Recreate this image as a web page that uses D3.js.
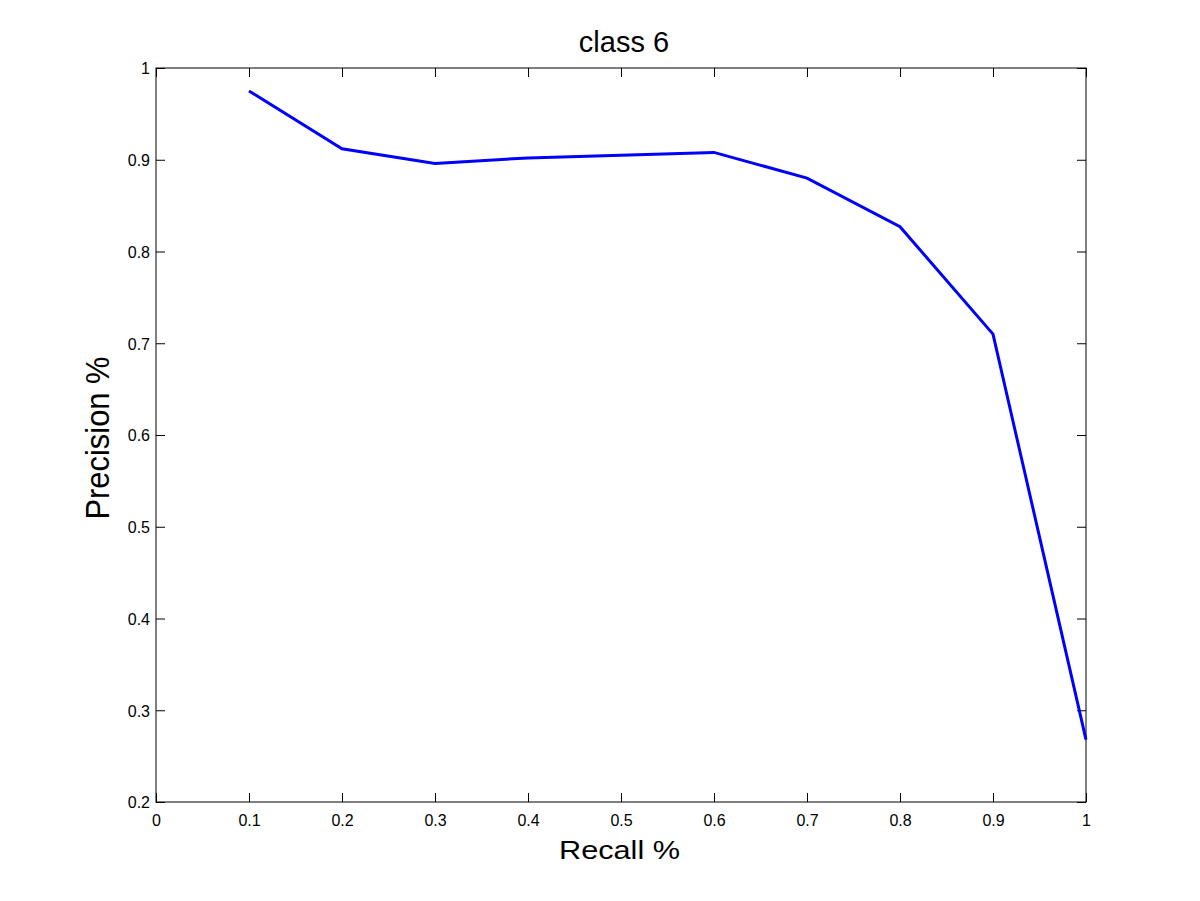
<!DOCTYPE html>
<html><head><meta charset="utf-8">
<script src="https://cdn.jsdelivr.net/npm/d3@7"></script>
<style>body{margin:0;background:#fff}svg{display:block}text{font-family:"Liberation Sans",Arial,sans-serif}</style>
</head><body>
<script>
const recall = [0.1, 0.2, 0.3, 0.4, 0.5, 0.6, 0.7, 0.8, 0.9, 1.0];
const precision = [0.975, 0.912, 0.896, 0.902, 0.905, 0.908, 0.880, 0.827, 0.710, 0.268];
const xTicks = [0, 0.1, 0.2, 0.3, 0.4, 0.5, 0.6, 0.7, 0.8, 0.9, 1];
const yTicks = [0.2, 0.3, 0.4, 0.5, 0.6, 0.7, 0.8, 0.9, 1];
const title = "class 6", xLabel = "Recall %", yLabel = "Precision %";

const W = 1200, H = 901;
const L = 156, R = 1086, T = 68, B = 802;
const svg = d3.select("body").append("svg").attr("width", W).attr("height", H);
const x = d3.scaleLinear().domain([0, 1]).range([L, R]);
const y = d3.scaleLinear().domain([0.2, 1]).range([B, T]);
const fmt = d => d === 0 ? "0" : d === 1 ? "1" : String(d);
const tl = 9;

svg.append("rect").attr("x", L).attr("y", T).attr("width", R - L).attr("height", B - T)
  .attr("fill", "none").attr("stroke", "#000").attr("stroke-width", 1);

const gx = svg.append("g").attr("transform", `translate(0,${B})`)
  .call(d3.axisBottom(x).tickValues(xTicks).tickFormat(fmt).tickSizeInner(-tl).tickSizeOuter(0));
const gxt = svg.append("g").attr("transform", `translate(0,${T})`)
  .call(d3.axisTop(x).tickValues(xTicks).tickFormat("").tickSizeInner(-tl).tickSizeOuter(0));
const gy = svg.append("g").attr("transform", `translate(${L},0)`)
  .call(d3.axisLeft(y).tickValues(yTicks).tickFormat(fmt).tickSizeInner(-tl).tickSizeOuter(0).tickPadding(6));
const gyr = svg.append("g").attr("transform", `translate(${R},0)`)
  .call(d3.axisRight(y).tickValues(yTicks).tickFormat("").tickSizeInner(-tl).tickSizeOuter(0));
[gx, gxt, gy, gyr].forEach(g => {
  g.select(".domain").remove();
  g.selectAll("line").attr("stroke", "#000");
  g.selectAll("text").attr("font-size", 16).attr("fill", "#000")
   .attr("font-family", '"Liberation Sans",Arial,sans-serif');
});
gx.selectAll("text").attr("y", 24).attr("dy", 0);
gy.selectAll("text").attr("dy", "0.36em");

svg.append("path").datum(recall.map((r, i) => [r, precision[i]]))
  .attr("fill", "none").attr("stroke", "#0000ff").attr("stroke-width", 3)
  .attr("stroke-linejoin", "miter")
  .attr("d", d3.line().x(d => x(d[0])).y(d => y(d[1])));

svg.append("text").attr("x", 624).attr("y", 52).attr("text-anchor", "middle")
  .attr("font-size", 29).text(title);
svg.append("text").attr("x", 619.5).attr("y", 859).attr("text-anchor", "middle")
  .attr("font-size", 26).attr("textLength", 121).attr("lengthAdjust", "spacingAndGlyphs").text(xLabel);
svg.append("text").attr("transform", `translate(109,438) rotate(-90)`)
  .attr("text-anchor", "middle").attr("font-size", 33)
  .attr("textLength", 163).attr("lengthAdjust", "spacingAndGlyphs").text(yLabel);
</script>
</body></html>
